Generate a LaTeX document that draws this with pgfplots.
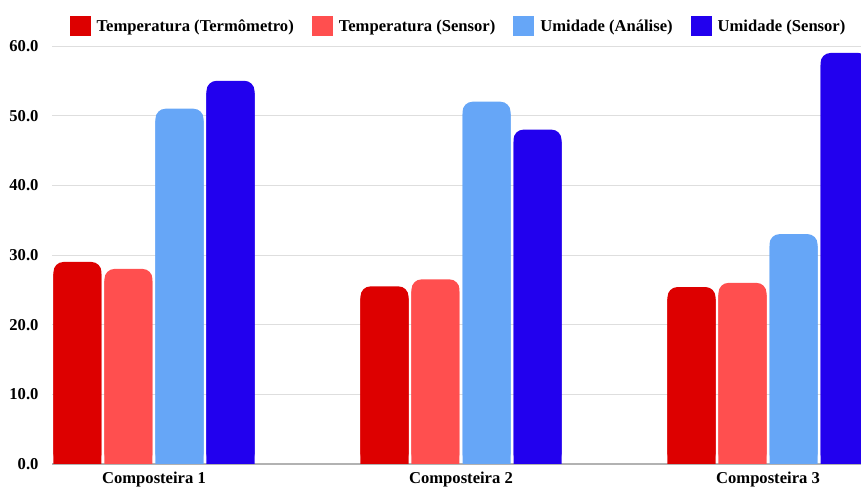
\documentclass[border=0pt]{standalone}
\usepackage{fontspec}
\setmainfont{Liberation Serif}
\usepackage{pgfplots}
\pgfplotsset{compat=1.18}
\usepackage{pgfplotstable}

\definecolor{cA}{HTML}{DD0000}
\definecolor{cB}{HTML}{FF4F4F}
\definecolor{cC}{HTML}{66A6F7}
\definecolor{cD}{HTML}{2200EE}

\pgfplotstableread{
x a b c d
0 29.0 28.0 51.0 55.0
1 25.5 26.5 52.0 48.0
2 25.4 26.0 33.0 59.0
}\data

\newcommand{\lblfont}{\fontsize{16.6bp}{19bp}\selectfont\bfseries}

\begin{document}
\begin{tikzpicture}
\useasboundingbox (0,0) rectangle (861bp,488bp);
\begin{axis}[
  at={(52bp,24bp)}, anchor=south west,
  scale only axis, width=809bp, height=418bp,
  xmin=-0.3322, xmax=2.3029, ymin=0, ymax=60,
  ybar, bar width=0.1564,
  axis line style={draw=none},
  tick style={draw=none},
  ytick={10,20,30,40,50,60},
  yticklabels={10.0,20.0,30.0,40.0,50.0,60.0},
  extra y ticks={0}, extra y tick labels={0.0},
  extra y tick style={grid style={draw=black!30, line width=1.5bp}},
  ymajorgrids, grid style={draw=black!13, line width=1bp},
  xtick={0,1,2}, xticklabels={Composteira 1, Composteira 2, Composteira 3},
  tick label style={font=\lblfont},
  yticklabel style={xshift=-10bp},
  legend style={at={(axis description cs:0.5025,1.0478)}, anchor=center,
    draw=none, fill=none, legend columns=4, font=\lblfont,
    /tikz/every odd column/.style={column sep=4bp},
    /tikz/every even column/.style={column sep=16bp}},
  legend image code/.code={\fill[#1,sharp corners] (0bp,-10bp) rectangle (21bp,10bp);},
]
\addplot[forget plot, fill=cA, draw=none, bar shift=-0.2492, yshift=-12bp] table[x=x,y=a]{\data};
\addplot[fill=cA, draw=none, bar shift=-0.2492, rounded corners=10bp] table[x=x,y=a]{\data};
\addplot[forget plot, fill=cB, draw=none, bar shift=-0.0831, yshift=-12bp] table[x=x,y=b]{\data};
\addplot[fill=cB, draw=none, bar shift=-0.0831, rounded corners=10bp] table[x=x,y=b]{\data};
\addplot[forget plot, fill=cC, draw=none, bar shift=0.0831, yshift=-12bp] table[x=x,y=c]{\data};
\addplot[fill=cC, draw=none, bar shift=0.0831, rounded corners=10bp] table[x=x,y=c]{\data};
\addplot[forget plot, fill=cD, draw=none, bar shift=0.2492, yshift=-12bp] table[x=x,y=d]{\data};
\addplot[fill=cD, draw=none, bar shift=0.2492, rounded corners=10bp] table[x=x,y=d]{\data};
\legend{Temperatura (Termômetro), Temperatura (Sensor), Umidade (Análise), Umidade (Sensor)}
\end{axis}
\end{tikzpicture}
\end{document}
